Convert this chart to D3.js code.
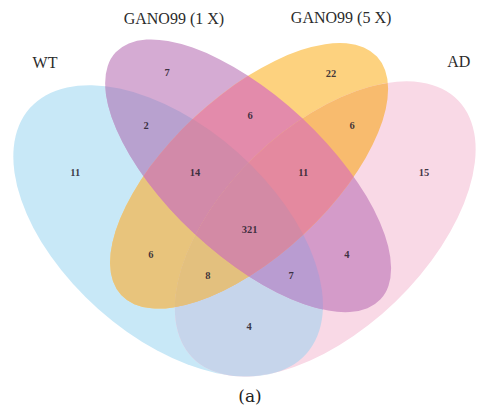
<!DOCTYPE html>
<html>
<head>
<meta charset="utf-8">
<script src="https://cdn.jsdelivr.net/npm/d3@7"></script>
<style>
  html, body { margin: 0; padding: 0; background: #fff; }
  svg { display: block; }
</style>
</head>
<body>
<svg id="chart" width="479" height="409"></svg>
<script>
// Sets, in the order used by the membership keys below
const setNames = ["WT", "GANO99 (1 X)", "GANO99 (5 X)", "AD"];

// Each region is keyed by membership in (WT, 1X, 5X, AD)
const regionKeys = ["1000", "0100", "0010", "0001",
                    "1100", "1010", "1001", "0110", "0101", "0011",
                    "1110", "1101", "1011", "0111",
                    "1111"];
const regionCounts = [11, 7, 22, 15,
                      2, 6, 4, 6, 4, 6,
                      14, 7, 8, 11,
                      321];

const panelLabel = "(a)";

// ---- layout (diagram units: 1000 across the width) ----
const shapes = [
  { cx: 351, cy: 482, rx: 386, ry: 219, angle: 41.6 },  // WT
  { cx: 518, cy: 367, rx: 378, ry: 165, angle: 43 },    // 1X
  { cx: 520, cy: 367, rx: 365, ry: 167, angle: -43 },   // 5X
  { cx: 679, cy: 478, rx: 386, ry: 211, angle: -44 }    // AD
];
const setLabelAnchors = [[94, 142], [363, 50], [712, 48], [958, 140]];
const panelAnchor = [522, 839];
const regionAnchors = {
  "1000": [157, 359], "0100": [349, 152], "0010": [691, 154], "0001": [885, 359],
  "1100": [305, 261], "1010": [315, 530], "1001": [520, 681],
  "0110": [522, 240], "0101": [724, 530], "0011": [735, 261],
  "1110": [407, 359], "1101": [608, 574], "1011": [434, 574], "0111": [633, 359],
  "1111": [521, 478]
};

// ---- styles ----
const regionFill = {
  "1000": "#c8e8f7", "0100": "#d5abd3", "0010": "#fdd27f", "0001": "#f9d9e6",
  "1100": "#b8a1cf", "1010": "#e8c47c", "1001": "#c6d5eb",
  "0110": "#e38bab", "0101": "#d49bc9", "0011": "#f8bb6e",
  "1110": "#d28aa9", "1101": "#b99cd1", "1011": "#e3c07e", "0111": "#e4899f",
  "1111": "#d38aa5"
};

const W = 479, H = 409;
const s = d3.scaleLinear().domain([0, 1000]).range([0, W]);

const svg = d3.select("#chart");
const defs = svg.append("defs");

function ellipseAttrs(sel, d) {
  sel.attr("cx", s(d.cx)).attr("cy", s(d.cy))
     .attr("rx", s(d.rx)).attr("ry", s(d.ry))
     .attr("transform", `rotate(${d.angle},${s(d.cx)},${s(d.cy)})`);
}

// one clip path per set
shapes.forEach((d, i) => {
  defs.append("clipPath").attr("id", "set-clip-" + i)
    .append("ellipse").call(ellipseAttrs, d);
});

const diagram = svg.append("g").attr("class", "venn");

// Paint regions from single sets up to the full intersection; every
// region is covered last by the intersection of exactly its own sets.
const order = regionKeys
  .map((k, i) => ({ key: k, count: regionCounts[i], members: [...k].map((c, j) => c === "1" ? j : -1).filter(j => j >= 0) }))
  .sort((a, b) => a.members.length - b.members.length);

order.forEach(r => {
  let g = diagram;
  r.members.slice(0, -1).forEach(j => {
    g = g.append("g").attr("clip-path", `url(#set-clip-${j})`);
  });
  const last = r.members[r.members.length - 1];
  g.append("ellipse").call(ellipseAttrs, shapes[last])
    .attr("fill", regionFill[r.key]);
});

// region counts
svg.append("g").attr("class", "counts")
  .selectAll("text")
  .data(regionKeys.map((k, i) => ({ key: k, count: regionCounts[i] })))
  .join("text")
  .attr("x", d => s(regionAnchors[d.key][0]))
  .attr("y", d => s(regionAnchors[d.key][1]))
  .attr("dy", "0.35em")
  .attr("text-anchor", "middle")
  .attr("font-family", "'Liberation Serif', 'Times New Roman', serif")
  .attr("font-weight", "bold")
  .attr("font-size", 10.5)
  .attr("fill", "#2a2230")
  .attr("fill-opacity", 0.88)
  .text(d => d.count);

// set names
svg.append("g").attr("class", "set-labels")
  .selectAll("text")
  .data(setNames)
  .join("text")
  .attr("x", (d, i) => s(setLabelAnchors[i][0]))
  .attr("y", (d, i) => s(setLabelAnchors[i][1]))
  .attr("text-anchor", "middle")
  .attr("font-family", "'Liberation Serif', 'Times New Roman', serif")
  .attr("font-size", 16)
  .attr("fill", "#2b2b2b")
  .text(d => d);

svg.append("text")
  .attr("x", s(panelAnchor[0]))
  .attr("y", s(panelAnchor[1]))
  .attr("text-anchor", "middle")
  .attr("font-family", "'DejaVu Serif', serif")
  .attr("font-size", 17)
  .attr("fill", "#222")
  .text(panelLabel);
</script>
</body>
</html>
